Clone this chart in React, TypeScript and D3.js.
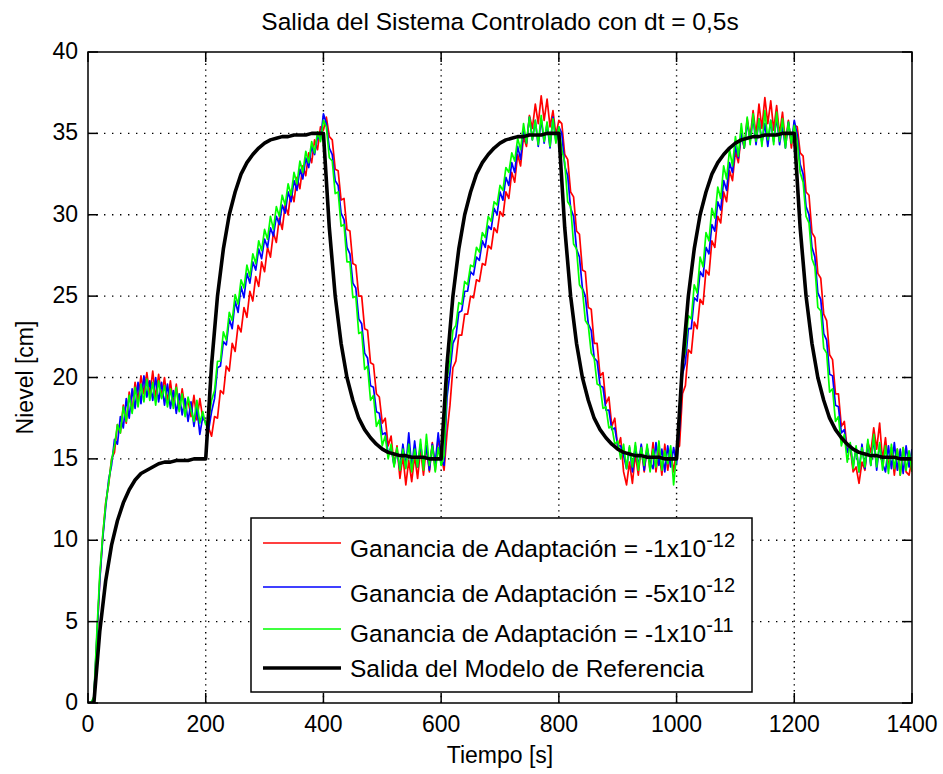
import React from 'react';
import * as d3 from 'd3';

// Controlled-system outputs sampled every 5 s, reference model every 10 s
const sampleStep = 5;
const modelStep = 10;

const xTickValues = [0, 200, 400, 600, 800, 1000, 1200, 1400];
const yTickValues = [0, 5, 10, 15, 20, 25, 30, 35, 40];

const titleText = 'Salida del Sistema Controlado con dt = 0,5s';
const xLabelText = 'Tiempo [s]';
const yLabelText = 'Nievel [cm]';

// Ganancia = -1e-12
const outputGain1e12 = [
  // 0–200 s
  0, 0, 0.2, 3.8, 7.6, 10.2, 12.3, 13.4, 15.0, 15.4, 17.1, 16.6, 18.3, 17.2, 19.1, 17.9, 19.7, 18.6, 20.1, 19.0,
  20.3, 18.9, 20.4, 18.7, 20.2, 18.8, 20.0, 18.5, 19.8, 18.3, 19.6, 18.0, 19.3, 18.1, 18.6, 17.6, 18.9, 17.4, 18.7, 17.5, 17.3,
  // 205–400 s
  16.9, 16.4, 17.6, 17.5, 19.2, 19.0, 20.7, 20.4, 22.1, 21.6, 23.2, 22.8, 24.3, 23.7, 25.3, 24.7, 26.2, 25.6, 27.1, 26.5,
  28.0, 27.4, 28.9, 28.3, 29.8, 29.1, 30.6, 30.0, 31.5, 30.8, 32.3, 31.6, 33.0, 32.4, 33.8, 33.2, 34.6, 34.0, 35.4, 35.2,
  // 405–600 s
  36.0, 34.8, 34.6, 32.8, 32.7, 30.9, 31.0, 29.1, 29.0, 27.0, 26.9, 25.0, 25.0, 23.0, 22.9, 20.9, 20.8, 19.0, 18.8, 17.2,
  17.5, 15.8, 16.4, 14.6, 15.8, 13.8, 15.2, 13.4, 14.9, 13.6, 15.2, 13.8, 15.6, 14.0, 15.8, 14.2, 16.0, 14.3, 16.3, 15.2,
  // 605–800 s
  14.3, 16.6, 18.3, 20.6, 21.0, 22.6, 22.6, 23.9, 23.9, 25.0, 24.9, 26.0, 25.9, 27.0, 26.9, 28.1, 27.9, 29.2, 28.9, 30.2,
  29.9, 31.4, 31.0, 32.6, 32.0, 33.7, 33.0, 34.8, 34.2, 36.1, 35.3, 36.8, 35.6, 37.3, 35.8, 37.1, 35.4, 36.4, 34.9, 35.8,
  // 805–1000 s
  35.6, 33.7, 33.4, 31.4, 31.1, 29.0, 28.8, 26.6, 26.5, 24.3, 24.2, 22.1, 22.1, 20.1, 20.3, 18.4, 18.8, 17.0, 17.5, 15.7,
  16.3, 14.2, 13.4, 14.8, 13.5, 15.3, 14.0, 15.8, 14.2, 15.7, 14.3, 16.0, 14.2, 15.6, 14.0, 15.9, 14.3, 15.5, 14.2, 15.6,
  // 1005–1200 s
  15.8, 19.0, 19.5, 21.7, 21.5, 23.4, 23.0, 24.8, 24.5, 26.6, 26.3, 28.4, 28.0, 29.9, 29.5, 31.4, 30.8, 32.7, 32.1, 33.9,
  33.2, 35.0, 34.1, 35.9, 34.7, 36.4, 34.9, 36.8, 35.3, 37.2, 35.6, 37.0, 35.2, 36.7, 34.9, 36.3, 34.4, 35.8, 34.1, 35.5,
  // 1205–1400 s
  35.4, 33.8, 33.6, 31.4, 31.2, 28.9, 28.6, 26.4, 26.1, 23.9, 23.5, 21.4, 21.1, 19.0, 19.0, 17.0, 17.3, 15.5, 15.7, 14.2,
  14.5, 13.5, 14.8, 14.3, 16.0, 15.4, 16.9, 15.6, 17.2, 14.9, 16.3, 14.4, 15.7, 14.0, 15.6, 14.0, 15.7, 14.2, 14.0, 15.0,
];

// Ganancia = -5e-12
const outputGain5e12 = [
  // 0–200 s
  0, 0, 0.3, 4.0, 7.5, 10.1, 12.0, 13.7, 14.6, 16.2, 15.9, 17.6, 16.9, 18.7, 17.5, 19.3, 18.1, 19.7, 18.4, 20.1,
  18.8, 19.8, 18.6, 20.0, 18.5, 19.7, 18.3, 19.6, 18.1, 19.2, 17.8, 19.0, 17.7, 18.7, 17.3, 18.5, 17.0, 18.2, 16.5, 17.6, 17.2,
  // 205–400 s
  16.8, 17.9, 18.7, 20.6, 20.7, 22.2, 22.0, 23.6, 23.0, 24.7, 24.0, 25.6, 24.9, 26.4, 25.8, 27.1, 26.6, 27.9, 27.3, 28.5,
  28.0, 29.2, 28.7, 29.9, 29.4, 30.6, 30.1, 31.4, 30.8, 32.1, 31.5, 32.8, 32.2, 33.5, 32.9, 34.2, 33.7, 34.8, 34.6, 36.2,
  // 405–600 s
  35.6, 34.1, 33.7, 32.1, 31.8, 30.1, 29.7, 28.0, 27.6, 25.8, 25.5, 23.6, 23.3, 21.5, 21.2, 19.5, 19.4, 17.9, 17.8, 16.5,
  16.6, 15.3, 15.7, 14.6, 15.5, 14.3, 15.9, 14.5, 16.6, 14.4, 16.1, 14.5, 15.9, 14.6, 15.8, 14.3, 15.9, 14.7, 16.6, 14.9,
  // 605–800 s
  14.6, 18.8, 20.3, 22.1, 22.5, 24.0, 24.1, 25.3, 25.3, 26.5, 26.3, 27.4, 27.2, 28.4, 28.0, 29.3, 29.1, 30.4, 30.0, 31.4,
  30.9, 32.3, 31.8, 33.2, 32.6, 34.2, 33.4, 35.2, 34.4, 36.0, 34.6, 35.8, 34.2, 35.9, 34.4, 35.6, 34.1, 36.0, 34.5, 35.4,
  // 805–1000 s
  35.0, 33.0, 32.4, 30.4, 29.9, 27.9, 27.4, 25.5, 25.0, 23.3, 22.9, 21.2, 21.0, 19.5, 19.4, 18.0, 18.0, 16.8, 16.9, 15.8,
  15.8, 15.2, 14.4, 15.7, 14.2, 15.8, 14.5, 15.9, 14.3, 15.7, 14.8, 14.4, 16.0, 14.6, 15.6, 14.2, 15.8, 14.5, 15.7, 14.7,
  // 1005–1200 s
  16.9, 20.2, 20.9, 23.0, 23.0, 24.9, 24.7, 26.5, 26.2, 28.0, 27.6, 29.4, 29.0, 30.8, 30.3, 32.1, 31.5, 33.2, 32.6, 34.2,
  33.5, 35.0, 34.1, 35.7, 34.5, 36.0, 34.3, 35.9, 34.4, 35.6, 34.2, 35.8, 34.5, 36.0, 34.3, 35.5, 34.1, 35.7, 34.4, 35.8,
  // 1205–1400 s
  34.9, 33.1, 32.5, 30.5, 30.0, 28.0, 27.4, 25.2, 24.8, 22.7, 22.3, 20.2, 20.1, 18.3, 18.2, 16.6, 16.8, 15.4, 15.9, 14.5,
  15.7, 14.2, 15.9, 14.4, 16.0, 14.6, 16.3, 14.3, 15.9, 14.7, 14.2, 15.8, 14.4, 16.0, 14.3, 15.6, 14.1, 15.8, 14.5, 15.6,
];

// Ganancia = -1e-11
const outputGain1e11 = [
  // 0–200 s
  0, 0, 0.4, 4.3, 7.9, 10.3, 12.2, 13.5, 14.9, 15.8, 17.1, 16.6, 18.2, 17.3, 18.9, 17.8, 19.4, 18.2, 19.6, 18.5,
  19.9, 18.6, 19.7, 18.3, 19.8, 18.7, 19.5, 18.2, 19.3, 18.1, 19.4, 17.9, 19.0, 17.6, 18.8, 18.0, 17.3, 18.6, 17.2, 17.9, 17.1,
  // 205–400 s
  17.4, 18.6, 19.2, 21.0, 21.0, 22.8, 22.3, 24.0, 23.5, 25.1, 24.5, 26.0, 25.5, 26.9, 26.2, 27.6, 27.0, 28.4, 27.8, 29.1,
  28.5, 29.9, 29.1, 30.5, 29.9, 31.2, 30.6, 31.9, 31.2, 32.6, 31.9, 33.3, 32.6, 33.9, 33.2, 34.5, 33.8, 35.1, 34.5, 35.8,
  // 405–600 s
  35.4, 33.5, 33.3, 31.3, 31.4, 29.3, 29.4, 27.1, 27.1, 24.9, 25.0, 22.7, 22.8, 20.5, 20.7, 18.6, 18.9, 17.0, 17.4, 15.8,
  16.4, 15.0, 15.9, 14.5, 15.7, 14.3, 15.6, 14.4, 15.9, 14.2, 15.6, 14.5, 16.2, 14.3, 16.5, 14.6, 15.8, 14.2, 15.7, 14.6,
  // 605–800 s
  15.2, 19.9, 21.0, 22.9, 23.2, 24.6, 24.5, 25.9, 25.7, 26.9, 26.8, 28.0, 27.7, 28.9, 28.6, 29.9, 29.6, 30.8, 30.6, 31.8,
  31.5, 32.9, 32.6, 33.8, 33.3, 34.7, 34.0, 35.6, 34.4, 36.0, 34.6, 35.8, 34.3, 36.1, 34.5, 35.7, 34.2, 35.9, 34.4, 35.4,
  // 805–1000 s
  34.0, 33.2, 30.8, 30.5, 28.2, 27.9, 25.7, 25.4, 23.5, 23.2, 21.5, 21.2, 19.6, 19.5, 18.1, 18.2, 16.9, 17.0, 15.9, 16.1,
  15.0, 15.9, 14.4, 15.8, 14.5, 16.0, 14.3, 15.7, 14.6, 15.9, 14.2, 15.6, 14.5, 16.1, 14.3, 15.5, 14.7, 15.8, 13.4, 15.3,
  // 1005–1200 s
  17.8, 21.0, 21.6, 23.8, 23.6, 25.7, 25.2, 27.4, 26.8, 28.9, 28.4, 30.4, 29.8, 31.7, 31.0, 33.0, 32.2, 34.0, 33.0, 34.8,
  33.6, 35.6, 34.1, 36.0, 34.3, 36.2, 34.5, 35.9, 34.2, 36.4, 34.6, 35.8, 34.3, 36.3, 34.5, 35.9, 34.1, 35.7, 34.4, 35.5,
  // 1205–1400 s
  34.5, 32.6, 32.0, 29.9, 29.5, 27.3, 26.8, 24.3, 24.1, 21.8, 21.5, 19.1, 19.3, 17.3, 17.6, 15.8, 16.5, 14.8, 16.0, 14.4,
  15.8, 14.2, 15.7, 14.5, 16.2, 14.6, 16.5, 14.5, 16.0, 14.3, 15.8, 14.1, 15.9, 14.4, 15.6, 14.0, 15.7, 14.3, 15.5, 14.2,
];

// Reference model output
const referenceModel = [
  // 0–200 s
  0, 0, 4.4, 7.5, 9.7, 11.2, 12.3, 13.1, 13.7, 14.1, 14.3, 14.5, 14.7, 14.8, 14.8, 14.9, 14.9, 14.9, 15.0, 15.0, 15.0,
  // 210–400 s
  20.8, 25.0, 27.9, 30.0, 31.4, 32.5, 33.2, 33.7, 34.1, 34.4, 34.6, 34.7, 34.8, 34.8, 34.9, 34.9, 34.9, 35.0, 35.0, 35.0,
  // 410–600 s
  29.2, 25.0, 22.1, 20.0, 18.6, 17.5, 16.8, 16.3, 15.9, 15.6, 15.4, 15.3, 15.2, 15.2, 15.1, 15.1, 15.1, 15.0, 15.0, 15.0,
  // 610–800 s
  20.8, 25.0, 27.9, 30.0, 31.4, 32.5, 33.2, 33.7, 34.1, 34.4, 34.6, 34.7, 34.8, 34.8, 34.9, 34.9, 34.9, 35.0, 35.0, 35.0,
  // 810–1000 s
  29.2, 25.0, 22.1, 20.0, 18.6, 17.5, 16.8, 16.3, 15.9, 15.6, 15.4, 15.3, 15.2, 15.2, 15.1, 15.1, 15.1, 15.0, 15.0, 15.0,
  // 1010–1200 s
  20.8, 25.0, 27.9, 30.0, 31.4, 32.5, 33.2, 33.7, 34.1, 34.4, 34.6, 34.7, 34.8, 34.8, 34.9, 34.9, 34.9, 35.0, 35.0, 35.0,
  // 1210–1400 s
  29.2, 25.0, 22.1, 20.0, 18.6, 17.5, 16.8, 16.3, 15.9, 15.6, 15.4, 15.3, 15.2, 15.2, 15.1, 15.1, 15.1, 15.0, 15.0, 15.0,
];

const legendLabels = [
  { text: 'Ganancia de Adaptación = -1x10', exp: '-12' },
  { text: 'Ganancia de Adaptación = -5x10', exp: '-12' },
  { text: 'Ganancia de Adaptación = -1x10', exp: '-11' },
  { text: 'Salida del Modelo de Referencia', exp: '' },
];

const W = 943;
const H = 774;
const plot = { left: 88, right: 912, top: 52, bottom: 703 };
const FONT = "'Liberation Sans', Arial, Helvetica, sans-serif";

const seriesStyles = [
  { data: outputGain1e12, step: sampleStep, color: '#ff0000', width: 1.7 },
  { data: outputGain5e12, step: sampleStep, color: '#0000ff', width: 1.7 },
  { data: outputGain1e11, step: sampleStep, color: '#00ff00', width: 1.7 },
  { data: referenceModel, step: modelStep, color: '#000000', width: 3.6 },
];

export default function App() {
  const x = d3.scaleLinear().domain([0, 1400]).range([plot.left, plot.right]);
  const y = d3.scaleLinear().domain([0, 40]).range([plot.bottom, plot.top]);

  const makeLine = (step: number) =>
    d3
      .line<number>()
      .x((_, i) => x(i * step))
      .y((d) => y(d));

  const tickLen = 10;
  const legendBox = { x0: 251, x1: 752, y0: 518, y1: 692 };
  const legendLineX = [263, 341];
  const legendLineY = [543, 587, 629, 668];
  const legendBaseline = [557, 602, 642, 677];

  return (
    <div style={{ position: 'absolute', left: 0, top: 0 }}>
      <svg width={W} height={H} style={{ display: 'block', background: '#fff' }}>
        <defs>
          <clipPath id="plotArea">
            <rect x={plot.left} y={plot.top} width={plot.right - plot.left} height={plot.bottom - plot.top} />
          </clipPath>
        </defs>
        <rect x={0} y={0} width={W} height={H} fill="#fff" />

        {/* dotted grid */}
        <g stroke="#000" strokeWidth={1.4} fill="none">
          {xTickValues.slice(1, -1).map((t) => (
            <line key={'gx' + t} x1={x(t)} x2={x(t)} y1={plot.top} y2={plot.bottom} strokeDasharray="1.4 4.4" />
          ))}
          {yTickValues.slice(1, -1).map((v) => (
            <line key={'gy' + v} x1={plot.left} x2={plot.right} y1={y(v)} y2={y(v)} strokeDasharray="1.4 6.6" />
          ))}
        </g>

        {/* data */}
        <g clipPath="url(#plotArea)" fill="none" strokeLinejoin="round">
          {seriesStyles.map((s, i) => (
            <path key={i} d={makeLine(s.step)(s.data) || ''} stroke={s.color} strokeWidth={s.width} />
          ))}
        </g>

        {/* axes box and inward ticks */}
        <g stroke="#000" strokeWidth={1.5} fill="none">
          <rect x={plot.left} y={plot.top} width={plot.right - plot.left} height={plot.bottom - plot.top} />
          {xTickValues.map((t) => (
            <g key={'tx' + t}>
              <line x1={x(t)} x2={x(t)} y1={plot.bottom} y2={plot.bottom - tickLen} />
              <line x1={x(t)} x2={x(t)} y1={plot.top} y2={plot.top + tickLen} />
            </g>
          ))}
          {yTickValues.map((v) => (
            <g key={'ty' + v}>
              <line x1={plot.left} x2={plot.left + tickLen} y1={y(v)} y2={y(v)} />
              <line x1={plot.right} x2={plot.right - tickLen} y1={y(v)} y2={y(v)} />
            </g>
          ))}
        </g>

        {/* tick labels */}
        <g fontFamily={FONT} fontSize={23} fill="#000">
          {xTickValues.map((t) => (
            <text key={'lx' + t} x={x(t)} y={plot.bottom + 29} textAnchor="middle">
              {t}
            </text>
          ))}
          {yTickValues.map((v) => (
            <text key={'ly' + v} x={plot.left - 10} y={y(v) + 7} textAnchor="end">
              {v}
            </text>
          ))}
        </g>

        {/* title and axis labels */}
        <text x={(plot.left + plot.right) / 2} y={30} textAnchor="middle" fontFamily={FONT} fontSize={24.5}>
          {titleText}
        </text>
        <text x={(plot.left + plot.right) / 2} y={763} textAnchor="middle" fontFamily={FONT} fontSize={23}>
          {xLabelText}
        </text>
        <text
          transform={`translate(33, ${(plot.top + plot.bottom) / 2}) rotate(-90)`}
          textAnchor="middle"
          fontFamily={FONT}
          fontSize={23}
        >
          {yLabelText}
        </text>

        {/* legend */}
        <g>
          <rect
            x={legendBox.x0}
            y={legendBox.y0}
            width={legendBox.x1 - legendBox.x0}
            height={legendBox.y1 - legendBox.y0}
            fill="#fff"
            stroke="#000"
            strokeWidth={1.5}
          />
          {legendLabels.map((entry, i) => (
            <g key={'lg' + i}>
              <line
                x1={legendLineX[0]}
                x2={legendLineX[1]}
                y1={legendLineY[i]}
                y2={legendLineY[i]}
                stroke={seriesStyles[i].color}
                strokeWidth={seriesStyles[i].width}
              />
              <text x={350} y={legendBaseline[i]} fontFamily={FONT} fontSize={24.5} fill="#000">
                {entry.text}
                {entry.exp && (
                  <tspan dy={-10} fontSize={20}>
                    {entry.exp}
                  </tspan>
                )}
              </text>
            </g>
          ))}
        </g>
      </svg>
    </div>
  );
}
